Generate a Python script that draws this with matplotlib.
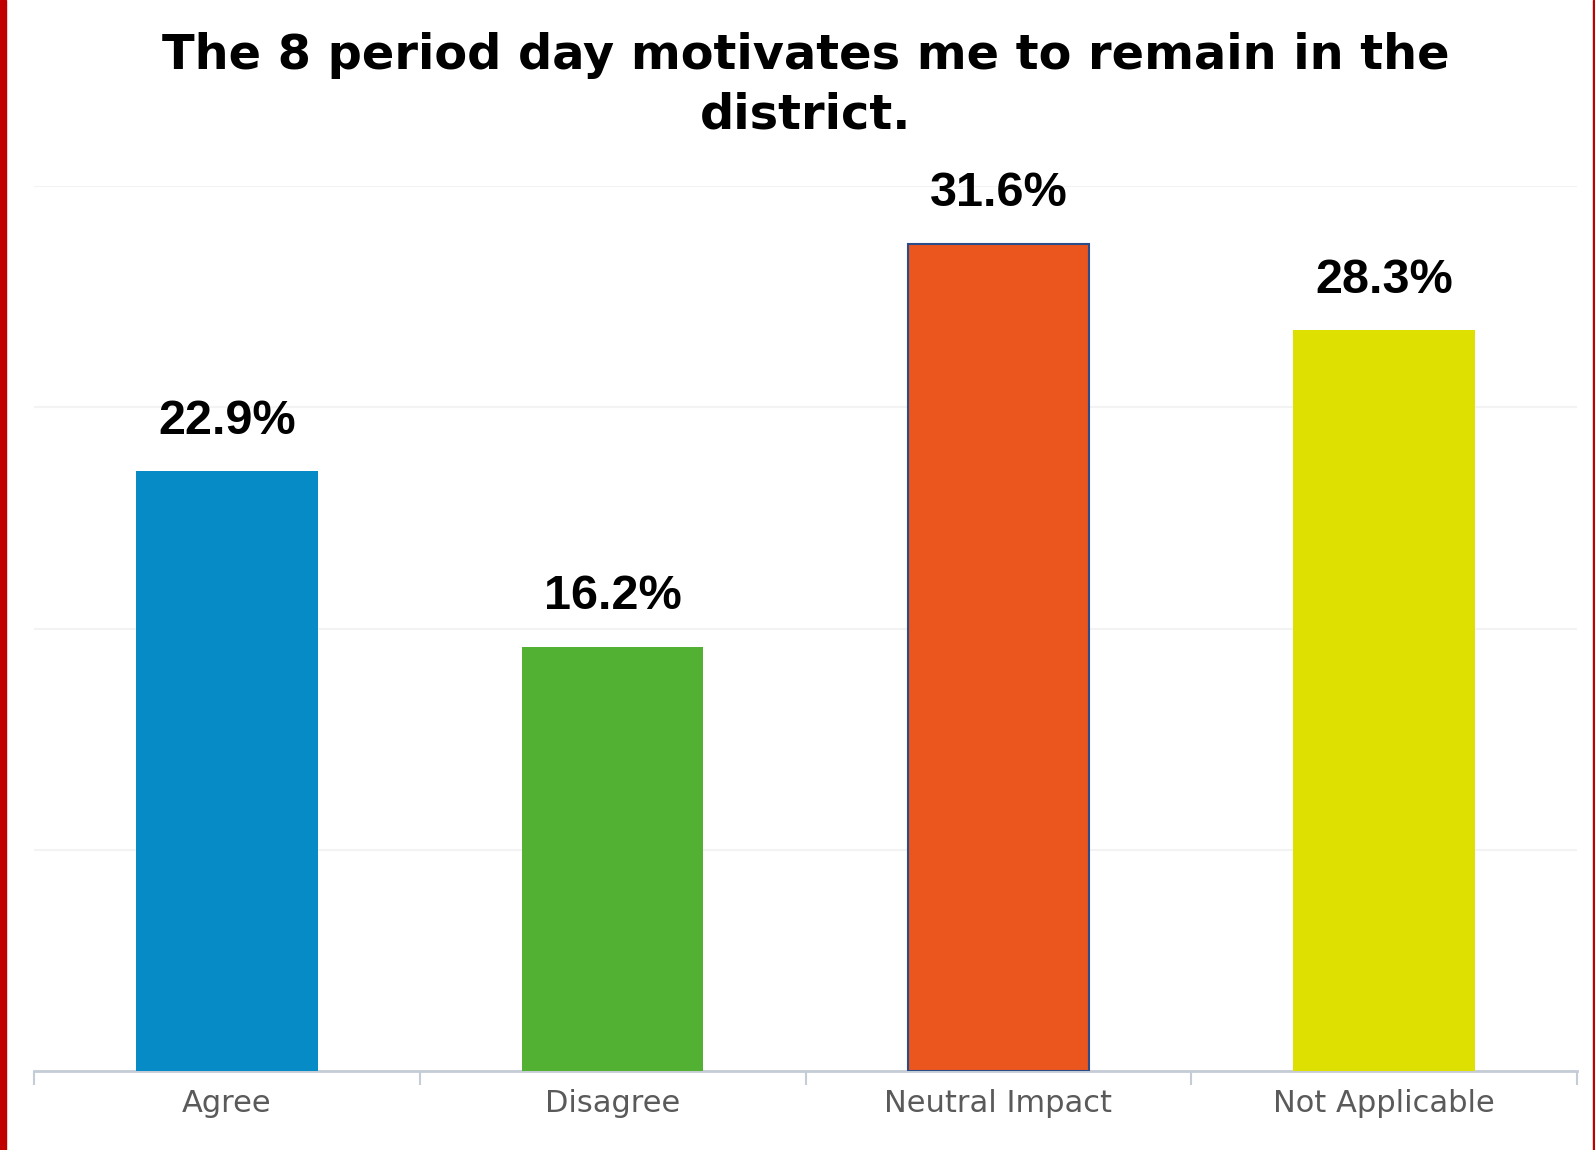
import matplotlib
matplotlib.use("Agg")
import matplotlib.pyplot as plt
from matplotlib.patches import Rectangle

# Survey responses
categories = ['Agree', 'Disagree', 'Neutral Impact', 'Not Applicable']
percents = [22.9, 16.2, 31.6, 28.3]
labels = ['22.9%', '16.2%', '31.6%', '28.3%']
colors = ['#068bc6', '#52b132', '#eb561e', '#dde000']

title = "The 8 period day motivates me to remain in the\ndistrict."

fig = plt.figure(figsize=(15.95, 11.5), dpi=100)
ax = fig.add_axes([34 / 1595, 79 / 1150, 1543 / 1595, 885 / 1150])

x = list(range(len(categories)))
bars = ax.bar(x, percents, width=0.47, color=colors, zorder=3)
# the middle bar has a dark outline in the original
bars[2].set_edgecolor('#2a4d8a')
bars[2].set_linewidth(1.5)

for xi, v, lab in zip(x, percents, labels):
    ax.annotate(lab, (xi, v), xytext=(0, 27), textcoords='offset points',
                ha='center', va='baseline', fontsize=35, fontweight='bold',
                family='Liberation Sans', color='black')

ax.set_xlim(-0.5, 3.5)
ax.set_ylim(0, 33.8)
ax.set_yticks([0, 8.45, 16.9, 25.35, 33.8])
ax.yaxis.grid(True, color='#f3f3f3', linewidth=1.5, zorder=0)
ax.tick_params(axis='y', left=False, labelleft=False)

ax.set_xticks(x)
ax.set_xticklabels(categories, fontsize=22, color='#5a5a5a', family='DejaVu Sans')
ax.tick_params(axis='x', which='major', length=0, pad=13)
ax.set_xticks([-0.5, 0.5, 1.5, 2.5, 3.5], minor=True)
ax.tick_params(axis='x', which='minor', length=10, width=1.5, color='#c4ccd6')

for s in ['top', 'left', 'right']:
    ax.spines[s].set_visible(False)
ax.spines['bottom'].set_color('#c4ccd6')
ax.spines['bottom'].set_linewidth(2)

fig.text(0.505, 0.972, title, ha='center', va='top', fontsize=34.5,
         fontweight='bold', family='DejaVu Sans', linespacing=1.32)

# red frame edges of the slide
fig.patches.append(Rectangle((0, 0), 6 / 1595, 1, transform=fig.transFigure,
                             color='#c00000', zorder=10))
fig.patches.append(Rectangle((1593 / 1595, 0), 2 / 1595, 1, transform=fig.transFigure,
                             color='#c00000', zorder=10))

fig.savefig('out.png', dpi=100)
